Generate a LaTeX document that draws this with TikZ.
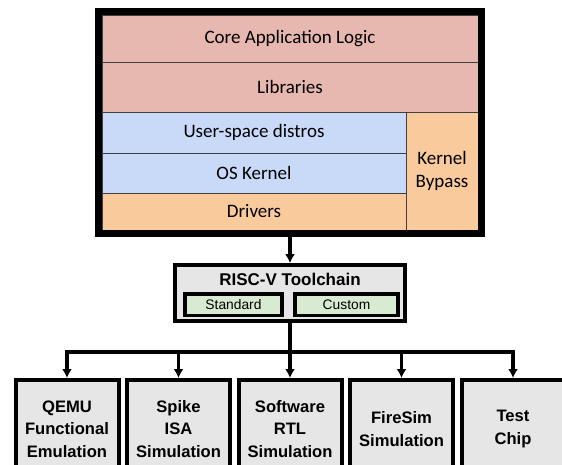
\documentclass[tikz,border=0pt]{standalone}
\usepackage{fontspec}
\setmainfont{Carlito}
\newfontfamily\arialfont{Liberation Sans}
\usepackage{tikz}
\usetikzlibrary{trees,positioning,fit,arrows.meta}
\definecolor{apppink}{HTML}{E6B8AF}
\definecolor{osblue}{HTML}{C9DAF8}
\definecolor{drvorange}{HTML}{F9CB9C}
\definecolor{boxgray}{HTML}{E6E6E6}
\definecolor{tcgreen}{HTML}{D9EAD3}
\definecolor{sepgray}{HTML}{404040}

\begin{document}
\begin{tikzpicture}[x=1pt,y=-1pt,
		  layer/.style={rectangle, draw=sepgray, line width=0.8pt, inner sep=0pt, outer sep=0pt,
		    align=center, font=\fontsize{19}{23}\selectfont},
		  link/.style={line width=3.2pt, -{Latex[length=9pt,width=10pt]}},
		  chainbox/.style={rectangle, draw, line width=3.8pt, fill=boxgray, minimum width=230pt, minimum height=56pt},
		  flavor/.style={rectangle, draw, line width=3.5pt, fill=tcgreen, minimum height=21.5pt, inner sep=0pt,
		    font=\arialfont\fontsize{13.8}{16}\selectfont},
		  target/.style={rectangle, draw, line width=4pt, fill=boxgray, minimum width=103pt, minimum height=98pt,
		    inner sep=0pt, align=center, font=\arialfont\bfseries\fontsize{16.6}{22.5}\selectfont},
		  level distance=136pt, sibling distance=111.5pt,
		  edge from parent/.style={draw, link},
		  edge from parent path={(\tikzparentnode.south) -- ++(0pt,-29pt) -| (\tikzchildnode.north)}]
		  \useasboundingbox (0,0) rectangle (562,464);
		  \node[layer, fill=apppink, minimum width=376pt, minimum height=47pt] (core) at (290,38.5) {Core Application Logic};
		  \node[layer, fill=apppink, minimum width=376pt, minimum height=50pt, below=0pt of core] (libs) {Libraries};
		  \node[layer, fill=osblue, minimum width=304pt, minimum height=41pt, anchor=north west] (user) at (libs.south west) {User-space distros};
		  \node[layer, fill=osblue, minimum width=304pt, minimum height=40pt, below=0pt of user] (kern) {OS Kernel};
		  \node[layer, fill=drvorange, minimum width=304pt, minimum height=37pt, below=0pt of kern] (drv) {Drivers};
		  \node[layer, fill=drvorange, minimum width=72pt, minimum height=118pt, anchor=north east] (bypass) at (libs.south east) {Kernel\\Bypass};
		  \node[draw, line width=7pt, inner sep=3.5pt, fit=(core)(drv)(bypass)] (stack) {};
		  \node[chainbox] (chain) at (290,293) {}
		    child { node[target] (qemu) {QEMU\\Functional\\Emulation}}
		    child { node[target] (spike) {Spike\\ISA\\Simulation}}
		    child { node[target] (rtl) {Software\\RTL\\Simulation}}
		    child { node[target] (firesim) {FireSim\\Simulation}}
		    child { node[target] (chip) {Test\\Chip}};
		  \node[font=\arialfont\bfseries\fontsize{17}{20}\selectfont] (chaintitle) at (290,279) {RISC-V Toolchain};
		  \node[flavor, minimum width=97pt] (std) at (233.5,304.5) {Standard};
		  \node[flavor, minimum width=103pt] (custom) at (346.5,304.5) {Custom};
		  \draw[link] (stack.south) -- (chain.north);
\end{tikzpicture}
\end{document}
